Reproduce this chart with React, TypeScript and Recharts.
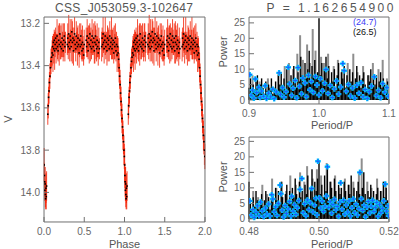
import { ScatterChart, Scatter, ErrorBar, XAxis, YAxis } from "recharts";

// folded light curve of CSS_J053059.3-102647, one cycle: [phase, V, sigma]
const lightCurve: [number, number, number][] = [
  [0.002, 13.87, 0.08], [0.005, 13.92, 0.06], [0.008, 13.95, 0.07], [0.011, 13.99, 0.05], [0.014, 13.96, 0.08],
  [0.017, 14.01, 0.06], [0.020, 14.03, 0.05], [0.024, 13.98, 0.07], [0.028, 14.02, 0.06], [0.032, 13.97, 0.07],
  [0.047, 13.63, 0.05], [0.052, 13.59, 0.06], [0.057, 13.55, 0.05], [0.062, 13.52, 0.06], [0.067, 13.48, 0.05],
  [0.073, 13.45, 0.06], [0.080, 13.41, 0.05], [0.087, 13.38, 0.06], [0.094, 13.36, 0.05],
  [0.101, 13.34, 0.06], [0.106, 13.31, 0.05], [0.111, 13.35, 0.08], [0.116, 13.29, 0.04], [0.121, 13.32, 0.07],
  [0.127, 13.28, 0.05], [0.132, 13.33, 0.09], [0.138, 13.30, 0.06], [0.144, 13.27, 0.05], [0.150, 13.32, 0.07],
  [0.156, 13.29, 0.04], [0.162, 13.26, 0.08], [0.168, 13.31, 0.06], [0.175, 13.33, 0.05], [0.182, 13.28, 0.07],
  [0.189, 13.30, 0.10], [0.196, 13.25, 0.05], [0.203, 13.31, 0.06], [0.210, 13.29, 0.08], [0.217, 13.32, 0.04],
  [0.224, 13.27, 0.07], [0.231, 13.30, 0.06], [0.238, 13.33, 0.05], [0.245, 13.28, 0.08], [0.252, 13.26, 0.06],
  [0.259, 13.31, 0.07], [0.265, 13.29, 0.05],
  [0.289, 13.30, 0.05], [0.295, 13.27, 0.07], [0.301, 13.31, 0.06], [0.307, 13.25, 0.09], [0.313, 13.29, 0.04],
  [0.319, 13.32, 0.06], [0.325, 13.26, 0.08], [0.331, 13.28, 0.05], [0.338, 13.31, 0.07], [0.345, 13.24, 0.06],
  [0.352, 13.29, 0.10], [0.359, 13.27, 0.05], [0.366, 13.33, 0.07], [0.373, 13.28, 0.06], [0.380, 13.25, 0.08],
  [0.387, 13.30, 0.04], [0.394, 13.32, 0.06], [0.401, 13.26, 0.07], [0.408, 13.29, 0.05], [0.415, 13.31, 0.09],
  [0.422, 13.27, 0.06], [0.429, 13.30, 0.05], [0.436, 13.34, 0.07], [0.443, 13.28, 0.08], [0.450, 13.31, 0.04],
  [0.457, 13.26, 0.06], [0.464, 13.30, 0.07], [0.471, 13.33, 0.05], [0.478, 13.29, 0.08], [0.485, 13.32, 0.06],
  [0.492, 13.35, 0.05], [0.499, 13.30, 0.07],
  [0.524, 13.28, 0.06], [0.530, 13.31, 0.05], [0.536, 13.26, 0.08], [0.542, 13.29, 0.07], [0.548, 13.33, 0.04],
  [0.555, 13.27, 0.06], [0.562, 13.30, 0.09], [0.569, 13.25, 0.05], [0.576, 13.31, 0.07], [0.583, 13.28, 0.06],
  [0.590, 13.32, 0.05], [0.597, 13.26, 0.08], [0.604, 13.29, 0.06], [0.611, 13.31, 0.04], [0.618, 13.27, 0.07],
  [0.625, 13.33, 0.06], [0.632, 13.29, 0.10], [0.639, 13.26, 0.05], [0.646, 13.30, 0.07], [0.653, 13.32, 0.06],
  [0.660, 13.28, 0.08], [0.667, 13.31, 0.05], [0.674, 13.34, 0.06], [0.681, 13.29, 0.07], [0.688, 13.32, 0.05],
  [0.716, 13.31, 0.07], [0.722, 13.27, 0.05], [0.728, 13.30, 0.06], [0.734, 13.25, 0.08], [0.740, 13.29, 0.05],
  [0.747, 13.32, 0.07], [0.754, 13.28, 0.04], [0.761, 13.26, 0.09], [0.768, 13.31, 0.06], [0.775, 13.29, 0.05],
  [0.782, 13.33, 0.07], [0.789, 13.27, 0.06], [0.796, 13.30, 0.08], [0.803, 13.28, 0.05], [0.810, 13.32, 0.06],
  [0.817, 13.26, 0.07], [0.824, 13.31, 0.04], [0.831, 13.29, 0.06], [0.838, 13.27, 0.10], [0.845, 13.32, 0.05],
  [0.852, 13.30, 0.07], [0.859, 13.28, 0.06], [0.866, 13.34, 0.05], [0.873, 13.29, 0.08], [0.880, 13.31, 0.06],
  [0.887, 13.27, 0.07], [0.894, 13.33, 0.05], [0.901, 13.30, 0.06], [0.908, 13.35, 0.08], [0.914, 13.31, 0.05],
  [0.920, 13.34, 0.07],
  [0.927, 13.37, 0.06], [0.933, 13.41, 0.07], [0.939, 13.45, 0.06], [0.945, 13.49, 0.07], [0.951, 13.53, 0.06],
  [0.957, 13.57, 0.07], [0.963, 13.61, 0.06], [0.969, 13.65, 0.07], [0.975, 13.69, 0.06], [0.981, 13.73, 0.07],
  [0.987, 13.76, 0.06], [0.993, 13.80, 0.07], [0.998, 13.83, 0.06],
];

// periodogram near Period/P = 1 (grid 0.900 ... 1.098, step 0.002)
const topBlack = [
  4, 7, 2, 5, 3, 6, 8, 3, 5, 7,
  4, 2, 6, 3, 5, 4, 7, 2, 4, 6,
  3, 8, 5, 9, 4, 7, 3, 10, 6, 4,
  8, 5, 11, 7, 4, 9, 6, 14, 8, 5,
  12, 7, 10, 16, 6, 11, 8, 13, 7, 9,
  26.5, 8, 12, 6, 10, 14, 7, 11, 5, 9,
  6, 10, 4, 8, 12, 5, 9, 7, 11, 4,
  8, 5, 10, 6, 9, 4, 7, 11, 5, 8,
  4, 7, 9, 5, 3, 8, 6, 10, 4, 7,
  5, 8, 3, 6, 9, 4, 7, 5, 3, 6,
];
const topGray: [number, number][] = [
  [0.905, 8], [0.915, 6], [0.927, 7], [0.942, 9], [0.951, 11], [0.957, 12], [0.963, 10], [0.969, 15],
  [0.973, 21], [0.977, 13], [0.983, 18], [0.987, 12], [0.991, 23], [0.995, 16], [1.003, 14], [1.007, 12],
  [1.013, 15], [1.021, 11], [1.027, 13], [1.033, 10], [1.041, 12], [1.049, 15], [1.055, 9], [1.063, 11],
  [1.071, 8], [1.077, 12], [1.085, 10], [1.091, 13], [1.097, 7],
];
const topMarks: [number, number][] = [
  [0.901, 8.2], [0.903, 1.5], [0.905, 3.2], [0.907, 0.6], [0.909, 6.8], [0.911, 2.4], [0.914, 4.1], [0.916, 0.8],
  [0.918, 2.9], [0.921, 1.2], [0.923, 4.6], [0.925, 0.5], [0.928, 2.2], [0.931, 1.0], [0.934, 3.5], [0.936, 0.4],
  [0.939, 2.6], [0.943, 8.8], [0.945, 1.8], [0.948, 4.0], [0.950, 0.9], [0.953, 2.7], [0.956, 10.6], [0.958, 5.2],
  [0.961, 1.5], [0.963, 3.8], [0.966, 6.3], [0.968, 0.7], [0.970, 10.5], [0.972, 4.4], [0.975, 2.0], [0.977, 7.1],
  [0.980, 5.5], [0.982, 1.1], [0.985, 8.0], [0.987, 3.3], [0.989, 6.0], [0.992, 2.4], [0.995, 7.6], [0.997, 4.9],
  [1.000, 1.6], [1.002, 6.9], [1.005, 3.0], [1.008, 5.4], [1.010, 9.9], [1.013, 2.1], [1.016, 4.7], [1.019, 0.8],
  [1.022, 3.6], [1.025, 6.2], [1.028, 1.9], [1.031, 4.2], [1.034, 11.8], [1.036, 9.5], [1.039, 2.8], [1.042, 5.0],
  [1.045, 1.3], [1.048, 3.9], [1.051, 0.6], [1.054, 4.8], [1.057, 2.2], [1.060, 5.6], [1.063, 1.0], [1.066, 3.4],
  [1.069, 0.5], [1.072, 2.7], [1.075, 4.5], [1.079, 7.5], [1.082, 1.4], [1.085, 3.1], [1.088, 0.7], [1.091, 5.3],
  [1.094, 2.5], [1.097, 4.0], [1.099, 1.2],
];

// periodogram near Period/P = 0.5 (grid 0.4800 ... 0.5196, step 0.0004)
const botBlack = [
  12, 5, 3, 7, 4, 9, 6, 3, 5, 8,
  4, 6, 9, 5, 7, 3, 6, 8, 4, 10,
  6, 9, 5, 12, 7, 4, 8, 11, 6, 9,
  5, 10, 7, 13, 8, 6, 12, 7, 9, 5,
  11, 8, 14, 6, 10, 16, 7, 12, 9, 13,
  19, 8, 11, 7, 14, 9, 17, 6, 12, 10,
  7, 13, 9, 5, 11, 8, 10, 6, 12, 9,
  6, 11, 8, 14, 7, 10, 5, 9, 12, 8,
  6, 10, 15, 8, 5, 9, 7, 11, 6, 9,
  4, 8, 10, 6, 9, 5, 12, 7, 10, 6,
];
const botGray: [number, number][] = [
  [0.4812, 9], [0.4826, 7], [0.4838, 11], [0.4852, 8], [0.4866, 13], [0.4878, 10], [0.4894, 12], [0.4906, 9],
  [0.4918, 14], [0.4934, 11], [0.4946, 15], [0.4958, 12], [0.4966, 17], [0.4982, 13], [0.4994, 16], [0.5006, 14],
  [0.5022, 18], [0.5034, 12], [0.5046, 14], [0.5058, 10], [0.5074, 13], [0.5086, 11], [0.5098, 12], [0.5114, 15],
  [0.5122, 19.5], [0.5138, 12], [0.5150, 10], [0.5166, 13], [0.5178, 9], [0.5190, 12],
];
const botMarks: [number, number][] = [
  [0.4802, 5.8], [0.4806, 1.2], [0.4811, 3.0], [0.4815, 0.5], [0.4820, 2.1], [0.4824, 4.2], [0.4829, 1.0], [0.4833, 5.4],
  [0.4838, 2.6], [0.4842, 0.7], [0.4847, 3.5], [0.4851, 1.6], [0.4856, 4.8], [0.4860, 0.9], [0.4865, 7.8], [0.4868, 6.4],
  [0.4872, 2.3], [0.4876, 3.9], [0.4880, 1.1], [0.4884, 5.0], [0.4889, 10.9], [0.4891, 8.1], [0.4895, 2.8], [0.4899, 0.6],
  [0.4903, 4.3], [0.4907, 1.7], [0.4912, 3.2], [0.4916, 5.6], [0.4920, 0.9], [0.4922, 7.3], [0.4926, 2.5], [0.4930, 4.6],
  [0.4934, 1.4], [0.4938, 3.6], [0.4942, 5.9], [0.4946, 9.5], [0.4951, 13.0], [0.4955, 2.0], [0.4959, 4.9], [0.4963, 1.0],
  [0.4967, 6.1], [0.4971, 3.0], [0.4975, 5.2], [0.4979, 9.8], [0.4983, 2.2], [0.4987, 4.4], [0.4991, 6.6], [0.4994, 1.3],
  [0.4997, 18.6], [0.5001, 6.8], [0.5005, 3.5], [0.5009, 5.7], [0.5013, 2.4], [0.5017, 4.1], [0.5021, 7.4], [0.5024, 16.8],
  [0.5028, 3.7], [0.5032, 5.5], [0.5036, 1.8], [0.5040, 4.6], [0.5044, 6.3], [0.5048, 2.9], [0.5052, 4.0], [0.5056, 0.8],
  [0.5060, 5.4], [0.5062, 11.6], [0.5066, 3.1], [0.5070, 6.0], [0.5074, 1.5], [0.5078, 4.5], [0.5082, 2.2], [0.5086, 5.8],
  [0.5090, 0.9], [0.5094, 3.6], [0.5098, 6.4], [0.5102, 2.0], [0.5106, 4.7], [0.5110, 1.2], [0.5114, 3.3], [0.5117, 15.0],
  [0.5121, 6.5], [0.5125, 2.7], [0.5129, 4.4], [0.5133, 0.7], [0.5137, 3.8], [0.5141, 5.6], [0.5145, 1.9], [0.5149, 4.1],
  [0.5153, 6.0], [0.5157, 2.4], [0.5161, 3.7], [0.5165, 5.3], [0.5169, 0.8], [0.5173, 4.6], [0.5177, 2.0], [0.5181, 3.4],
  [0.5185, 5.8], [0.5189, 11.2], [0.5193, 2.5], [0.5197, 4.2], [0.5199, 1.0],
];

const title = "CSS_J053059.3-102647";
const periodText = "P = 1.162654900";
const peakBlue = "(24.7)";
const peakBlack = "(26.5)";

const FONT = "'Liberation Sans', Arial, sans-serif";
const AXIS = "#707070";
const TICK = { fontSize: 10, fill: "#666", fontFamily: FONT };
const THIN = 0.01; // axes need a non-zero size to be drawn

const steps = (a: number, b: number, n: number) =>
  Array.from({ length: n + 1 }, (_, i) => +(a + ((b - a) * i) / n).toFixed(5));

// one folded cycle drawn twice, phase and phase + 1
const lcRows = [0, 1].flatMap((k) => lightCurve.map(([p, v, e]) => ({ x: p + k, y: v, e })));
// sticks from 0 up to the power, drawn with a symmetric error bar around p/2
const stick = (x: number, p: number) => ({ x, y: p / 2, e: p / 2 });
const topBlackRows = topBlack.map((p, i) => stick(0.9 + i * 0.002, p));
const topGrayRows = topGray.map(([x, p]) => stick(x, p));
const topMarkRows = topMarks.map(([x, y]) => ({ x, y }));
const botBlackRows = botBlack.map((p, i) => stick(0.48 + i * 0.0004, p));
const botGrayRows = botGray.map(([x, p]) => stick(x, p));
const botMarkRows = botMarks.map(([x, y]) => ({ x, y }));

type Frame = {
  xDom: [number, number]; yDom: [number, number];
  xMajor: number[]; xMinor: number[]; yMajor: number[]; yMinor: number[];
  xFmt: (v: number) => string; yFmt: (v: number) => string; reversed?: boolean;
};

function frameAxes(f: Frame) {
  const c = { type: "number" as const, allowDataOverflow: true, interval: 0 as const, tickLine: { stroke: AXIS } };
  const line = { stroke: AXIS };
  return [
    <XAxis key="xb" xAxisId={0} dataKey="x" {...c} domain={f.xDom} ticks={f.xMajor} height={THIN} tickSize={-5} tickMargin={11} tick={TICK} tickFormatter={f.xFmt} axisLine={line} />,
    <XAxis key="xbm" xAxisId="xbm" {...c} domain={f.xDom} ticks={f.xMinor} height={THIN} tickSize={-2.5} tick={false} axisLine={false} />,
    <XAxis key="xt" xAxisId="xt" orientation="top" {...c} domain={f.xDom} ticks={f.xMajor} height={THIN} tickSize={-5} tick={false} axisLine={line} />,
    <XAxis key="xtm" xAxisId="xtm" orientation="top" {...c} domain={f.xDom} ticks={f.xMinor} height={THIN} tickSize={-2.5} tick={false} axisLine={false} />,
    <YAxis key="yl" yAxisId={0} dataKey="y" {...c} domain={f.yDom} reversed={f.reversed} ticks={f.yMajor} width={THIN} tickSize={-5} tickMargin={9} tick={TICK} tickFormatter={f.yFmt} axisLine={line} />,
    <YAxis key="ylm" yAxisId="ylm" {...c} domain={f.yDom} reversed={f.reversed} ticks={f.yMinor} width={THIN} tickSize={-2.5} tick={false} axisLine={false} />,
    <YAxis key="yr" yAxisId="yr" orientation="right" {...c} domain={f.yDom} reversed={f.reversed} ticks={f.yMajor} width={THIN} tickSize={-5} tick={false} axisLine={line} />,
    <YAxis key="yrm" yAxisId="yrm" orientation="right" {...c} domain={f.yDom} reversed={f.reversed} ticks={f.yMinor} width={THIN} tickSize={-2.5} tick={false} axisLine={false} />,
  ];
}

const NoShape = () => <g />;
const Dot = (p: any) => <rect x={p.cx - 0.8} y={p.cy - 0.8} width={1.6} height={1.6} fill="#000" />;
const Plus = (p: any) => (
  <g>
    <path d={`M${p.cx - 2.8},${p.cy}h5.6M${p.cx},${p.cy - 2.8}v5.6`} stroke="#00d0ff" strokeWidth={2.4} />
    <path d={`M${p.cx - 2.3},${p.cy}h4.6M${p.cx},${p.cy - 2.3}v4.6`} stroke="#1d5bff" strokeWidth={1} />
  </g>
);

function Periodogram(props: { black: any[]; gray: any[]; marks: any[]; frame: Frame; height: number; top: number; bottom: number }) {
  return (
    <ScatterChart width={199} height={props.height} margin={{ top: props.top, right: 10, bottom: props.bottom, left: 49 }}>
      {frameAxes(props.frame)}
      <Scatter data={props.gray} dataKey="y" shape={NoShape} isAnimationActive={false}>
        <ErrorBar dataKey="e" direction="y" width={0} stroke="#8e8e8e" strokeWidth={2} isAnimationActive={false} />
      </Scatter>
      <Scatter data={props.black} dataKey="y" shape={NoShape} isAnimationActive={false}>
        <ErrorBar dataKey="e" direction="y" width={0} stroke="#000" strokeWidth={1.4} isAnimationActive={false} />
      </Scatter>
      <Scatter data={props.marks} dataKey="y" shape={Plus} isAnimationActive={false} />
    </ScatterChart>
  );
}

const powerTicks = [0, 5, 10, 15, 20, 25];
const powerMinor = steps(0, 26, 26);

export default function App() {
  return (
    <div style={{ position: "absolute", left: 0, top: 0, width: 399, height: 249, background: "#fff", fontFamily: FONT }}>
      <div style={{ position: "absolute", left: 0, top: 0 }}>
        <ScatterChart width={216} height={249} margin={{ top: 17, right: 11, bottom: 27, left: 44 }}>
          {frameAxes({
            xDom: [0, 2], yDom: [13.17, 14.14], reversed: true,
            xMajor: steps(0, 2, 4), xMinor: steps(0, 2, 20),
            yMajor: steps(13.2, 14, 4), yMinor: steps(13.2, 14.1, 18),
            xFmt: (v) => v.toFixed(1), yFmt: (v) => v.toFixed(1),
          })}
          <Scatter data={lcRows} dataKey="y" shape={Dot} isAnimationActive={false}>
            <ErrorBar dataKey="e" direction="y" width={0} stroke="rgba(242,30,0,0.8)" strokeWidth={1} isAnimationActive={false} />
          </Scatter>
        </ScatterChart>
      </div>
      <div style={{ position: "absolute", left: 200, top: 0 }}>
        <Periodogram
          black={topBlackRows} gray={topGrayRows} marks={topMarkRows} height={125} top={17} bottom={21}
          frame={{
            xDom: [0.9, 1.1], yDom: [-1.3, 26.9],
            xMajor: steps(0.9, 1.1, 2), xMinor: steps(0.9, 1.1, 10),
            yMajor: powerTicks, yMinor: powerMinor,
            xFmt: (v) => v.toFixed(1), yFmt: (v) => String(v),
          }}
        />
      </div>
      <div style={{ position: "absolute", left: 200, top: 125 }}>
        <Periodogram
          black={botBlackRows} gray={botGrayRows} marks={botMarkRows} height={124} top={12} bottom={27}
          frame={{
            xDom: [0.48, 0.52], yDom: [-1, 26.4],
            xMajor: steps(0.48, 0.52, 2), xMinor: steps(0.48, 0.52, 8),
            yMajor: powerTicks, yMinor: powerMinor,
            xFmt: (v) => v.toFixed(2), yFmt: (v) => String(v),
          }}
        />
      </div>
      <svg width={399} height={249} style={{ position: "absolute", left: 0, top: 0, pointerEvents: "none" }} fontFamily={FONT}>
        <text x={124} y={11.7} fontSize={12} fill="#555" textAnchor="middle" textLength={138} lengthAdjust="spacing">{title}</text>
        <text x={266.5} y={11.7} fontSize={12} fill="#555" textLength={127} lengthAdjust="spacing">{periodText}</text>
        <text x={11.5} y={119} fontSize={11} fill="#555" textAnchor="middle" transform="rotate(-90 11.5 119)">V</text>
        <text x={124.5} y={248} fontSize={11} fill="#555" textAnchor="middle">Phase</text>
        <text x={226.5} y={52} fontSize={11} fill="#555" textAnchor="middle" transform="rotate(-90 226.5 52)">Power</text>
        <text x={226.5} y={177} fontSize={11} fill="#555" textAnchor="middle" transform="rotate(-90 226.5 177)">Power</text>
        <text x={332} y={128.5} fontSize={11} fill="#555" textAnchor="middle">Period/P</text>
        <text x={332} y={247.5} fontSize={11} fill="#555" textAnchor="middle">Period/P</text>
        <text x={353} y={25.3} fontSize={9} fill="#3b3bf5">{peakBlue}</text>
        <text x={353} y={34.7} fontSize={9} fill="#111">{peakBlack}</text>
      </svg>
    </div>
  );
}
